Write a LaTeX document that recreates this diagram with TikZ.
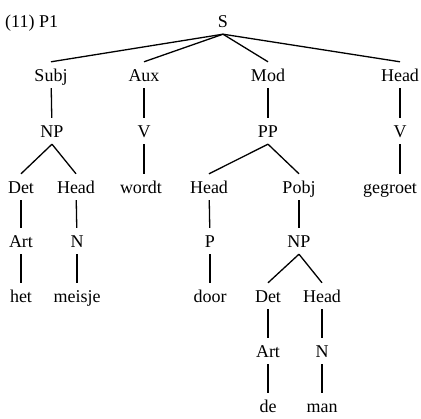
\documentclass[tikz,border=0pt]{standalone}
\usepackage{fontspec}
\setmainfont{Liberation Serif}
\usetikzlibrary{positioning}

\tikzset{
  cat/.style={anchor=base, inner sep=0pt, text height=20pt, text depth=6pt,
    font=\fontsize{18}{21}\selectfont},
  branch/.style={line width=1.3pt}
}

\begin{document}
\begin{tikzpicture}[x=1pt,y=-1pt]
    \useasboundingbox (0,0) rectangle (421,419);

    % Example number
    \node[cat, anchor=base west] (lbl) at (5,28) {(11) P1};

    % Root
    \node[cat] (S) at (223,28) {S};

    % Functions
    \node[cat] (subj) at (51,82) {Subj};
    \node[cat] (aux) at (144,82) {Aux};
    \node[cat] (mod) at (268,82) {Mod};
    \node[cat] (head) at (400,82) {Head};

    % Categories
    \node[cat] (np) at (52,138) {NP};
    \node[cat] (v1) at (144,138) {V};
    \node[cat] (pp) at (268,138) {PP};
    \node[cat] (v2) at (400,138) {V};

    % Inside NP and PP
    \node[cat] (det) at (21,194) {Det};
    \node[cat] (nhead) at (76,194) {Head};
    \node[cat] (wordt) at (141,194) {wordt};
    \node[cat] (phead) at (209,194) {Head};
    \node[cat] (pobj) at (299,194) {Pobj};
    \node[cat] (gegroet) at (390,194) {gegroet};

    \node[cat] (art) at (21,248) {Art};
    \node[cat] (n) at (77,248) {N};
    \node[cat] (p) at (210,248) {P};
    \node[cat] (np2) at (299,248) {NP};

    \node[cat] (het) at (21,303) {het};
    \node[cat] (meisje) at (77,303) {meisje};
    \node[cat] (door) at (210,303) {door};
    \node[cat] (det2) at (268,303) {Det};
    \node[cat] (head2) at (322,303) {Head};

    % Object NP
    \node[cat] (art2) at (268,358) {Art};
    \node[cat] (n2) at (322,358) {N};
    \node[cat] (de) at (268,413) {de};
    \node[cat] (man) at (322,413) {man};

    % Branches
    \draw[branch] (S.south) -- (subj.north);
    \draw[branch] (S.south) -- (aux.north);
    \draw[branch] (S.south) -- (mod.north);
    \draw[branch] (S.south) -- (head.north);

    \draw[branch] (subj) -- (np);
    \draw[branch] (aux) -- (v1);
    \draw[branch] (mod) -- (pp);
    \draw[branch] (head) -- (v2);

    \draw[branch] (np.south) -- (det.north);
    \draw[branch] (np.south) -- (nhead.north);
    \draw[branch] (v1.south) -- (v1.south |- wordt.north);
    \draw[branch] (pp.south) -- (phead.north);
    \draw[branch] (pp.south) -- (pobj.north);
    \draw[branch] (v2.south) -- (v2.south |- gegroet.north);

    \draw[branch] (det) -- (art);
    \draw[branch] (nhead) -- (n);
    \draw[branch] (phead) -- (p);
    \draw[branch] (pobj) -- (np2);

    \draw[branch] (art) -- (het);
    \draw[branch] (n) -- (meisje);
    \draw[branch] (p) -- (door);
    \draw[branch] (np2.south) -- (det2.north);
    \draw[branch] (np2.south) -- (head2.north);

    \draw[branch] (det2) -- (art2);
    \draw[branch] (head2) -- (n2);
    \draw[branch] (art2) -- (de);
    \draw[branch] (n2) -- (man);
\end{tikzpicture}
\end{document}
